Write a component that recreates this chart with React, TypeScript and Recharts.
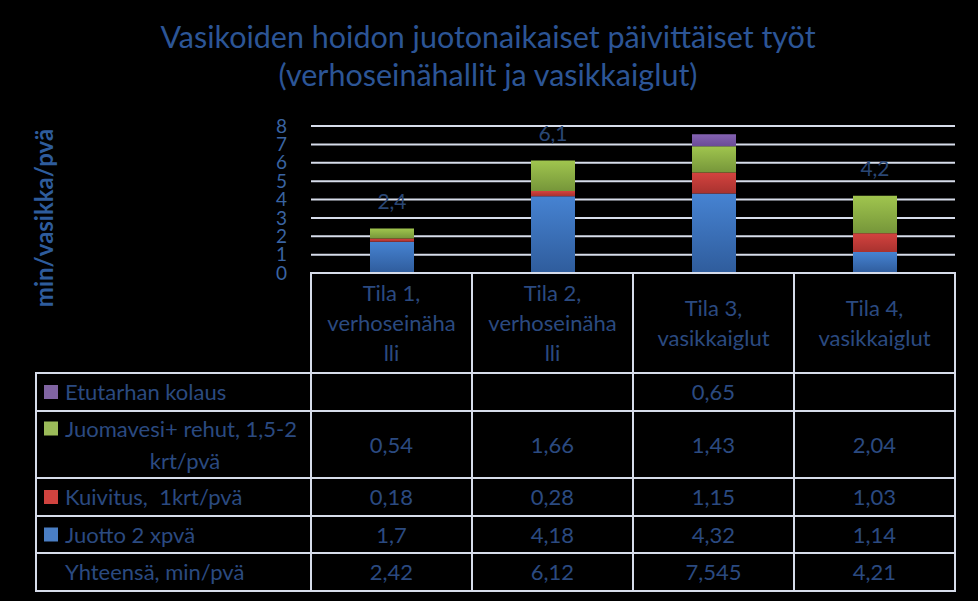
import React from 'react'
import { BarChart, Bar, XAxis, YAxis, CartesianGrid } from 'recharts'

const categories = ['Tila 1, verhoseinähalli', 'Tila 2, verhoseinähalli', 'Tila 3, vasikkaiglut', 'Tila 4, vasikkaiglut']
const categoryLines = [
  ['Tila 1,', 'verhoseinäha', 'lli'],
  ['Tila 2,', 'verhoseinäha', 'lli'],
  ['Tila 3,', 'vasikkaiglut'],
  ['Tila 4,', 'vasikkaiglut'],
]
const juotto = [1.7, 4.18, 4.32, 1.14]
const kuivitus = [0.18, 0.28, 1.15, 1.03]
const juomavesi = [0.54, 1.66, 1.43, 2.04]
const etutarha: (number | null)[] = [null, null, 0.65, null]
const totals = [2.42, 6.12, 7.545, 4.21]
const yTicks = [0, 1, 2, 3, 4, 5, 6, 7, 8]

const seriesNames = {
  etutarha: 'Etutarhan kolaus',
  juomavesi: 'Juomavesi+ rehut, 1,5-2 krt/pvä',
  kuivitus: 'Kuivitus,  1krt/pvä',
  juotto: 'Juotto 2 xpvä',
}
const totalName = 'Yhteensä, min/pvä'

const data = categories.map((name, i) => ({
  name,
  juotto: juotto[i],
  kuivitus: kuivitus[i],
  juomavesi: juomavesi[i],
  etutarha: etutarha[i],
  total: totals[i],
}))

const FONT = 'Lato, "Open Sans", sans-serif'
const TITLE_BLUE = '#2c5596'
const TEXT_BLUE = '#2b4a80'
const LINE = '#d6dcea'
const COL_W = 161
const TABLE_TOP = 273
const TABLE_FS = 22
// row borders measured from the table top: header, etutarha, juomavesi, kuivitus, juotto, total
const ROW_EDGES = [0, 100, 138, 205, 243, 280, 318]

const fmt = (v: number | null) => (v == null ? '' : String(v).replace('.', ','))

const tableRows = [etutarha, juomavesi, kuivitus, juotto, totals]

function ColumnTick(props: any) {
  const { x, payload } = props
  const i = categories.indexOf(payload.value)
  const left = x - COL_W / 2
  const lines = categoryLines[i]
  const mid = TABLE_TOP + 50
  return (
    <g>
      {ROW_EDGES.slice(0, -1).map((top, r) => (
        <rect key={r} x={left} y={TABLE_TOP + top} width={COL_W} height={ROW_EDGES[r + 1] - top}
          fill="none" stroke={LINE} strokeWidth={2} />
      ))}
      {lines.map((t, k) => (
        <text key={k} x={x} y={mid + (k - (lines.length - 1) / 2) * 30} dy={8}
          textAnchor="middle" fontSize={TABLE_FS} fontFamily={FONT} fill={TEXT_BLUE}>{t}</text>
      ))}
      {tableRows.map((row, r) => (
        <text key={'v' + r} x={x} y={TABLE_TOP + (ROW_EDGES[r + 1] + ROW_EDGES[r + 2]) / 2} dy={8}
          textAnchor="middle" fontSize={TABLE_FS} fontFamily={FONT} fill={TEXT_BLUE}>{fmt(row[i])}</text>
      ))}
    </g>
  )
}

const renderTotal = (key: 'juomavesi' | 'etutarha') => (p: any) => {
  const d = data[p.index]
  const top = d.etutarha != null ? 'etutarha' : 'juomavesi'
  if (top !== key) return null
  return (
    <text x={p.x + p.width / 2} y={p.y - 27} dy={7} textAnchor="middle" fontSize={21}
      fontFamily={FONT} fill="#2a4775">{d.total.toFixed(1).replace('.', ',')}</text>
  )
}

const legendRows = [
  { name: seriesNames.etutarha, color: '#8064a2', lines: [seriesNames.etutarha] },
  { name: seriesNames.juomavesi, color: '#9bbb59', lines: ['Juomavesi+ rehut, 1,5-2', 'krt/pvä'] },
  { name: seriesNames.kuivitus, color: '#d0433f', lines: [seriesNames.kuivitus] },
  { name: seriesNames.juotto, color: '#4a7ec4', lines: [seriesNames.juotto] },
  { name: totalName, color: null, lines: [totalName] },
]

function Overlay() {
  return (
    <svg width={978} height={601} style={{ position: 'absolute', left: 0, top: 0, pointerEvents: 'none' }}>
      <text x={488} y={48} textAnchor="middle" fontSize={30.5} fontFamily={FONT} fill={TITLE_BLUE}>
        Vasikoiden hoidon juotonaikaiset päivittäiset työt
      </text>
      <text x={488} y={86} textAnchor="middle" fontSize={30.5} fontFamily={FONT} fill={TITLE_BLUE}>
        (verhoseinähallit ja vasikkaiglut)
      </text>
      <text transform="translate(53,218) rotate(-90)" textAnchor="middle" fontSize={24} fontWeight="bold"
        fontFamily={FONT} fill="#2e5c9c">min/vasikka/pvä</text>
      {legendRows.map((row, r) => {
        const top = TABLE_TOP + ROW_EDGES[r + 1]
        const h = ROW_EDGES[r + 2] - ROW_EDGES[r + 1]
        const cy = top + h / 2 - (row.lines.length - 1) * 16
        return (
          <g key={r}>
            <rect x={36} y={top} width={275} height={h} fill="none" stroke={LINE} strokeWidth={2} />
            {row.color && <rect x={44} y={cy - 7} width={14} height={14} fill={row.color} />}
            {row.lines.map((t, k) => (
              <text key={k} x={k === 0 ? 65 : 185} y={cy + k * 32} dy={8} textAnchor={k === 0 ? 'start' : 'middle'}
                fontSize={TABLE_FS} fontFamily={FONT} fill={TEXT_BLUE} style={{ whiteSpace: 'pre' }}>{t}</text>
            ))}
          </g>
        )
      })}
    </svg>
  )
}

export default function App() {
  return (
    <div style={{ position: 'absolute', left: 0, top: 0, width: 978, height: 601, background: '#000' }}>
      <style>{'body{margin:0;background:#000}'}</style>
      <BarChart width={978} height={601} data={data} margin={{ top: 126, right: 23, bottom: 10, left: 251 }}>
        <defs>
          <linearGradient id="gBlue" x1="0" y1="0" x2="0" y2="1">
            <stop offset="0%" stopColor="#4683d2" />
            <stop offset="100%" stopColor="#2f5c9c" />
          </linearGradient>
          <linearGradient id="gRed" x1="0" y1="0" x2="0" y2="1">
            <stop offset="0%" stopColor="#d4433f" />
            <stop offset="100%" stopColor="#a8322f" />
          </linearGradient>
          <linearGradient id="gGreen" x1="0" y1="0" x2="0" y2="1">
            <stop offset="0%" stopColor="#a0c54e" />
            <stop offset="100%" stopColor="#76963a" />
          </linearGradient>
          <linearGradient id="gPurple" x1="0" y1="0" x2="0" y2="1">
            <stop offset="0%" stopColor="#8563b3" />
            <stop offset="100%" stopColor="#6a4b96" />
          </linearGradient>
        </defs>
        <CartesianGrid horizontal vertical={false} stroke={LINE} strokeWidth={2} />
        <XAxis dataKey="name" height={318} axisLine={false} tickLine={false} tickSize={0} tickMargin={0}
          interval={0} tick={<ColumnTick />} />
        <YAxis width={60} domain={[0, 8]} ticks={yTicks} axisLine={false} tickLine={false} tickMargin={18}
          interval={0} tick={{ fontSize: 19, fill: '#3a64a2', fontFamily: FONT }} />
        <Bar dataKey="juotto" name={seriesNames.juotto} stackId="a" fill="url(#gBlue)" barSize={44} isAnimationActive={false} />
        <Bar dataKey="kuivitus" name={seriesNames.kuivitus} stackId="a" fill="url(#gRed)" barSize={44} isAnimationActive={false} />
        <Bar dataKey="juomavesi" name={seriesNames.juomavesi} stackId="a" fill="url(#gGreen)" barSize={44}
          isAnimationActive={false} label={renderTotal('juomavesi')} />
        <Bar dataKey="etutarha" name={seriesNames.etutarha} stackId="a" fill="url(#gPurple)" barSize={44}
          isAnimationActive={false} label={renderTotal('etutarha')} />
      </BarChart>
      <Overlay />
    </div>
  )
}
